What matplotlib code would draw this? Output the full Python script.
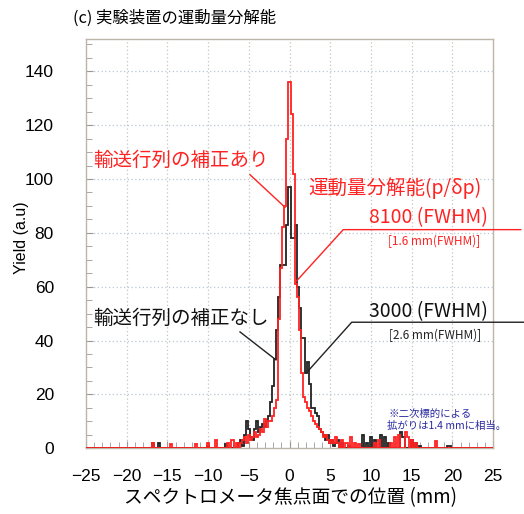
import numpy as np
import matplotlib
matplotlib.use("Agg")
import matplotlib.pyplot as plt
from matplotlib.ticker import MultipleLocator

plt.rcParams['font.family'] = ['Liberation Sans', 'DejaVu Sans']
JP = ['Noto Sans CJK JP', 'DejaVu Sans']

# ---------------- data ----------------
bin_width = 0.25                     # mm
core_start = -6.0                    # first core bin centre (mm)
# core region, bin centres -6.0 ... +6.0 mm
red_core = [2, 3, 4, 2, 5, 3, 4, 6, 4, 5, 7, 6, 11, 8, 10, 10, 12, 15, 18, 48,
            67, 82, 90, 115, 136, 124, 102, 61, 56, 44, 28, 19, 17, 15, 14, 12,
            10, 9, 8, 7, 6, 4, 5, 3, 2, 3, 2, 4, 2]
black_core = [3, 1, 5, 10, 7, 4, 3, 7, 10, 6, 8, 9, 8, 10, 12, 17, 23, 33, 44, 56,
              68, 68, 68, 83, 97, 78, 78, 83, 60, 52, 41, 41, 28, 32, 24, 15,
              15, 13, 12, 7, 6, 5, 3, 5, 2, 3, 1, 2, 3]
# sparse tails (bin centre mm, yield)
red_tail_x = [-16.75, -14.5, -11.5, -10.0, -9.0, -7.5, -7.0, -6.5,
              6.5, 7.0, 7.5, 8.0, 8.5, 10.5, 11.0, 12.5, 13.0, 13.5, 14.25, 14.5, 15.0, 15.5, 18.0]
red_tail_y = [2, 1.5, 1.5, 2, 3, 2, 3, 2,
              3, 2, 4, 2, 1.5, 2, 3, 2, 4, 5, 6, 4, 3, 2, 2.5]
black_tail_x = [-16.75, -16.0, -10.0, -7.75, -6.25,
                6.5, 7.25, 9.0, 9.5, 10.0, 10.5, 11.25, 11.75, 12.25, 13.75, 14.0, 15.0, 15.5, 16.0, 19.5, 19.75]
black_tail_y = [2, 2, 1, 1.5, 2,
                2, 1, 5, 2, 4, 3, 5, 4, 2, 6, 4, 3, 2, 1, 1, 1]

x_ticks = [-25, -20, -15, -10, -5, 0, 5, 10, 15, 20, 25]
y_ticks = [0, 20, 40, 60, 80, 100, 120, 140]

# ---------------- build histograms ----------------
nb = int(round(50 / bin_width)) + 1
centers = (np.arange(nb) - (nb - 1) / 2) * bin_width
edges = np.concatenate([centers - bin_width / 2, [centers[-1] + bin_width / 2]])

def build(core, tx, ty):
    h = np.zeros(nb)
    i0 = int(round((core_start + 25) / bin_width))
    h[i0:i0 + len(core)] = core
    for x, y in zip(tx, ty):
        h[int(round((x + 25) / bin_width))] = y
    return h

red = build(red_core, red_tail_x, red_tail_y)
black = build(black_core, black_tail_x, black_tail_y)

# ---------------- figure ----------------
fig = plt.figure(figsize=(5.24, 5.14), dpi=100)
ax = fig.add_axes([0.164, 0.128, 0.777, 0.796])

ax.stairs(black, edges, color='#222222', lw=1.3, zorder=3)
ax.stairs(red, edges, color='#ff2222', lw=1.3, zorder=4)

ax.set_xlim(-25, 25)
ax.set_ylim(0, 152)
ax.set_xticks(x_ticks)
ax.set_yticks(y_ticks)
ax.xaxis.set_minor_locator(MultipleLocator(1))
ax.yaxis.set_minor_locator(MultipleLocator(5))
ax.tick_params(which='both', direction='in', color='#999999', labelsize=12.5,
               top=False, right=False)
ax.tick_params(which='major', length=5)
ax.tick_params(which='minor', length=4)
ax.tick_params(axis='x', which='major', pad=15)
ax.tick_params(axis='y', which='major', pad=23)
for s in ax.spines.values():
    s.set_color('#bdb6a8')
    s.set_linewidth(1.0)

for xv in x_ticks[1:-1]:
    ax.axvline(xv, color='#c8c4b8', lw=0.9, ls=(0, (1, 2)), zorder=1)
for yv in y_ticks[1:]:
    ax.axhline(yv, color='#b8c6d4', lw=0.9, ls=(0, (1, 2)), zorder=1)

# labels
fig.text(22 / 524, 1 - 238 / 514, 'Yield (a.u)', rotation=90, ha='center', va='center',
         fontsize=11.5, family=['Liberation Sans', 'DejaVu Sans'])
fig.text(290 / 524, 1 - 498 / 514, 'スペクトロメータ焦点面での位置 (mm)', ha='center', va='center',
         fontsize=13.5, family=JP)
fig.text(73 / 524, 1 - 18 / 514, '(c) 実験装置の運動量分解能', ha='left', va='center',
         fontsize=11.8, family=JP)

# annotations
RED = '#ff2222'
ax.text(-24.1, 107, '輸送行列の補正あり', color=RED, fontsize=14, family=JP, ha='left', va='center')
ax.plot([-4.85, -0.55], [101.6, 89.5], color=RED, lw=1.0, zorder=5)

ax.text(-24.1, 48.4, '輸送行列の補正なし', color='#111111', fontsize=14, family=JP, ha='left', va='center')
ax.plot([-6.08, -1.66], [43.2, 32.8], color='#222222', lw=1.0, zorder=5)

ax.text(23.6, 96.8, '運動量分解能(p/δp)', color=RED, fontsize=14, family=JP, ha='right', va='center')
ax.text(24.3, 85.6, '8100 (FWHM)', color=RED, fontsize=14, family=JP, ha='right', va='center')
ax.text(23.4, 76.8, '[1.6 mm(FWHM)]', color=RED, fontsize=8.5, family=JP, ha='right', va='center')
ax.plot([0.8, 6.6, 28.4], [61.9, 81.2, 81.2], color=RED, lw=1.0, clip_on=False, zorder=5)

ax.text(24.3, 50.7, '3000 (FWHM)', color='#111111', fontsize=14, family=JP, ha='right', va='center')
ax.text(23.6, 42.0, '[2.6 mm(FWHM)]', color='#222222', fontsize=8.5, family=JP, ha='right', va='center')
ax.plot([2.19, 7.64, 29.0], [28.4, 46.8, 46.8], color='#222222', lw=1.0, clip_on=False, zorder=5)

ax.text(12.1, 12.7, '※二次標的による', color='#2a2aa0', fontsize=7.5, family=JP, ha='left', va='center', zorder=6)
ax.text(12.0, 8.2, '拡がりは1.4 mmに相当。', color='#2a2aa0', fontsize=7.5, family=JP, ha='left', va='center', zorder=6)

fig.savefig('out.png', dpi=100)
